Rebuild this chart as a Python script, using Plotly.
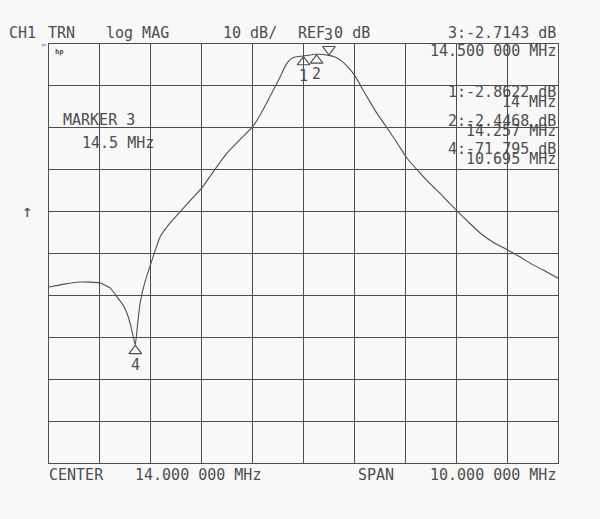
import plotly.graph_objects as go

# ---- data read from the analyzer display ----
freq_mhz = [9.0, 9.3, 9.6, 10.0, 10.2, 10.34, 10.45, 10.53, 10.60, 10.65, 10.695,
            10.74, 10.79, 10.88, 10.98, 11.08, 11.18, 11.38, 11.57, 11.8, 12.0,
            12.25, 12.5, 12.75, 13.0, 13.2, 13.34, 13.45, 13.54, 13.62, 13.68,
            13.76, 13.83, 14.0, 14.257, 14.5, 14.62, 14.72, 14.85, 14.97, 15.07,
            15.17, 15.3, 15.44, 15.64, 15.85, 16.03, 16.29, 16.5, 16.68, 16.86,
            17.04, 17.25, 17.47, 17.75, 18.02, 18.25, 18.45, 18.7, 19.0]
mag_db = [-58.0, -57.3, -56.8, -57.0, -58.2, -60.4, -62.2, -64.2, -67.0, -69.6, -71.8,
          -67.0, -61.8, -57.0, -53.2, -49.5, -46.1, -42.7, -40.1, -37.0, -34.4,
          -30.1, -26.0, -22.8, -19.8, -15.8, -12.6, -10.0, -7.9, -5.8, -4.5,
          -3.5, -3.1, -2.86, -2.45, -2.71, -3.1, -3.8, -5.2, -6.9, -8.8,
          -11.0, -13.7, -16.5, -20.0, -23.8, -27.2, -30.8, -33.5, -35.6, -37.9,
          -40.1, -42.6, -45.1, -47.5, -49.2, -50.8, -52.3, -53.9, -55.9]

marker_names = ["1", "2", "3", "4"]
marker_freq = [14.0, 14.257, 14.5, 10.695]
marker_db = [-2.8622, -2.4468, -2.7143, -71.795]
marker_freq_text = ["14 MHz", "14.257 MHz", "14.500 000 MHz", "10.695 MHz"]

center_mhz = 14.0
span_mhz = 10.0
scale_db = 10
ref_db = 0
ndiv_x = 10
ndiv_y = 10

# ---- layout geometry ----
W, H = 600, 519
L, R, T, B = 49, 558, 44, 463

def px(x):
    return (x - L) / (R - L)

def py(y):
    return (B - y) / (B - T)

ink = "#4d4d4d"
BG = "#f8f8f8"
FONT = "DejaVu Sans Mono"
fs = 15

x0 = center_mhz - span_mhz / 2
x1 = center_mhz + span_mhz / 2
y1 = ref_db
y0 = ref_db - scale_db * ndiv_y

fig = go.Figure()
fig.add_trace(go.Scatter(x=freq_mhz, y=mag_db, mode="lines",
                         line=dict(color="#505050", width=1.1, shape="spline",
                                   smoothing=0.4),
                         hoverinfo="skip", showlegend=False))

# marker triangles (3 is active, drawn above trace pointing down)
tri_off = 1.45
up_x = [f for f, n in zip(marker_freq, marker_names) if n != "3"]
up_y = [d - tri_off for d, n in zip(marker_db, marker_names) if n != "3"]
dn_x = [f for f, n in zip(marker_freq, marker_names) if n == "3"]
dn_y = [d + tri_off for d, n in zip(marker_db, marker_names) if n == "3"]
fig.add_trace(go.Scatter(x=up_x, y=up_y, mode="markers", cliponaxis=False,
                         marker=dict(symbol="triangle-up-open", size=11, color=ink,
                                     line=dict(color=ink, width=1.1)),
                         hoverinfo="skip", showlegend=False))
fig.add_trace(go.Scatter(x=dn_x, y=dn_y, mode="markers", cliponaxis=False,
                         marker=dict(symbol="triangle-down-open", size=11, color=ink,
                                     line=dict(color=ink, width=1.1)),
                         hoverinfo="skip", showlegend=False))

ann = []

def text(x, y, s, anchor="left", size=fs, xref="paper", yref="paper"):
    ann.append(dict(x=x, y=y, xref=xref, yref=yref, text=s, showarrow=False,
                    xanchor=anchor, yanchor="middle",
                    font=dict(family=FONT, size=size, color=ink)))

# marker number labels
for n, f, d in zip(marker_names, marker_freq, marker_db):
    if n == "3":
        text(f, py(35), n, anchor="center", xref="x")
    else:
        ann.append(dict(x=f, y=d - 2 * tri_off, xref="x", yref="y", text=n,
                        showarrow=False, xanchor="center", yanchor="top",
                        yshift=3,
                        font=dict(family=FONT, size=fs, color=ink)))

# header
text(px(7), py(33), "CH1")
text(px(46), py(33), "TRN")
text(px(104), py(33), "log MAG")
text(px(221), py(33), f"{scale_db} dB/")
text(px(296), py(33), f"REF {ref_db} dB")
text(px(558), py(33), f"3:{marker_db[2]:.4f} dB", anchor="right")
text(px(558), py(51), marker_freq_text[2], anchor="right")

# marker readouts
rows = [(0, 92), (1, 121), (3, 149)]
for i, yy in rows:
    d = marker_db[i]
    s = f"{d:.4f}" if abs(d) < 10 else f"{d:.3f}"
    text(px(558), py(yy), f"{marker_names[i]}:{s} dB", anchor="right")
    text(px(558), py(yy + 10), marker_freq_text[i], anchor="right")

text(px(61), py(120), "MARKER 3")
text(px(80), py(143), "14.5 MHz")
text(px(20), py(211), "↑", size=17)
text(px(53), py(52), "<b>hp</b>", size=7)
text(px(40), py(44), "▻", size=8)

# footer
text(px(47), py(475), "CENTER")
text(px(133), py(475), f"{center_mhz:.3f} 000 MHz")
text(px(356), py(475), "SPAN")
text(px(558), py(475), f"{span_mhz:.3f} 000 MHz", anchor="right")

fig.update_layout(
    width=W, height=H,
    margin=dict(l=L, r=W - R, t=T, b=H - B),
    paper_bgcolor=BG, plot_bgcolor=BG,
    showlegend=False,
    annotations=ann,
    xaxis=dict(range=[x0, x1], dtick=span_mhz / ndiv_x, tick0=x0,
               showgrid=True, gridcolor=ink, gridwidth=1,
               showline=True, linecolor=ink, linewidth=1, mirror=True,
               showticklabels=False, zeroline=False, ticks=""),
    yaxis=dict(range=[y0, y1], dtick=scale_db, tick0=y0,
               showgrid=True, gridcolor=ink, gridwidth=1,
               showline=True, linecolor=ink, linewidth=1, mirror=True,
               showticklabels=False, zeroline=False, ticks=""),
)

fig.write_html("out.html", config={"displayModeBar": False},
               post_script="document.body.style.margin='0';"
                           "document.body.style.background='" + BG + "';")
